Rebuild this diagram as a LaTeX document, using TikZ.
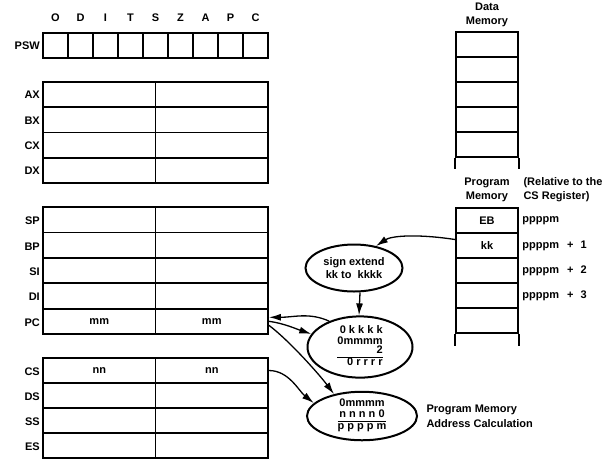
\documentclass[tikz,border=0pt]{standalone}
\usepackage{fontspec}
\setmainfont{Liberation Sans}
\usetikzlibrary{shapes.geometric,arrows.meta}
\setlength\arrayrulewidth{1.3pt}
\tikzset{
  regcell/.style={draw,line width=1.8pt,inner sep=0pt,minimum width=112.5pt,minimum height=#1},
  regcell/.default=25.4pt,
  flagcell/.style={draw,line width=1.8pt,inner sep=0pt,minimum size=25pt},
  memcell/.style={draw,line width=1.8pt,inner sep=0pt,minimum width=62pt,minimum height=25pt},
  reglabel/.style={anchor=east,inner sep=0pt},
  calcbox/.style={ellipse,draw,line width=2pt,inner sep=0pt},
  arr/.style={line width=1.3pt,-{Latex[length=12pt,width=7pt]}},
}

\begin{document}
\begin{tikzpicture}[x=1pt,y=-1pt,font=\bfseries\fontsize{11}{13}\selectfont]
\useasboundingbox (0,0) rectangle (609,459);

\foreach \f [count=\i from 0] in {O,D,I,T,S,Z,A,P,C} {
  \node[flagcell] (flag\i) at (55.5+25*\i,45.5) {};
  \node (fname\i) at (55.5+25*\i,18) {\f};
}
\node[reglabel] (psw) at (40,46) {PSW};

\foreach \reg [count=\i from 0] in {AX,BX,CX,DX} {
  \node[regcell=25.25pt] (\reg lo) at (99.25,94.6+25.25*\i) {};
  \node[regcell=25.25pt] (\reg hi) at (211.75,94.6+25.25*\i) {};
  \node[reglabel] (\reg) at (40,95+25.25*\i) {\reg};
}

\foreach \reg/\val [count=\i from 0] in {SP/{},BP/{},SI/{},DI/{},PC/mm} {
  \node[regcell] (\reg lo) at (99.25,219.7+25.4*\i) {\val};
  \node[regcell] (\reg hi) at (211.75,219.7+25.4*\i) {\val};
  \node[reglabel] (\reg) at (40,221+25.4*\i) {\reg};
}

\foreach \reg/\val [count=\i from 0] in {CS/nn,DS/{},SS/{},ES/{}} {
  \node[regcell=25pt] (\reg lo) at (99.25,370.5+25*\i) {\val};
  \node[regcell=25pt] (\reg hi) at (211.75,370.5+25*\i) {\val};
  \node[reglabel] (\reg) at (40,371.5+25*\i) {\reg};
}

\node[align=center] (dmlabel) at (487,15) {Data\\[1pt]Memory};
\foreach \i in {0,...,4}
  \node[memcell] (dm\i) at (487,44.5+25*\i) {};
\draw[line width=1.8pt] (dm4.south west) -- ++(0,11) (dm4.south east) -- ++(0,11);

\node[align=center] (pmlabel) at (487,190) {Program\\[1pt]Memory};
\node[anchor=west,align=left] (rellabel) at (520,190) {(Relative to the\\[1pt]CS Register)};
\foreach \val [count=\i from 0] in {EB,kk,{},{},{}}
  \node[memcell] (pm\i) at (487,220.5+25*\i) {\val};
\draw[line width=1.8pt] (pm4.south west) -- ++(0,12) (pm4.south east) -- ++(0,12);
\node[anchor=west] (off0) at (pm0.east) {ppppm};
\foreach \i in {1,2,3}
  \node[anchor=west] (off\i) at (pm\i.east) {ppppm\hspace{8pt}+\hspace{7pt}\i};

\node[calcbox,minimum width=97pt,minimum height=47pt,align=center] (ext) at (354,268) {sign extend\\kk to\ \ kkkk};
\node[calcbox,minimum width=105pt,minimum height=42pt,font=\bfseries\fontsize{11}{10}\selectfont] (disp) at (360,347)
  {\begin{tabular}{@{}r@{}}0 k k k k\\0mmmm\\[-1pt]2\\\hline 0 r r r r\end{tabular}};
\node[calcbox,minimum width=110pt,minimum height=43pt,font=\bfseries\fontsize{11}{11}\selectfont] (addr) at (362,416)
  {\begin{tabular}{@{}c@{}}0mmmm\\n n n n 0\\\hline p p p p m\end{tabular}};
\node[anchor=west,align=left] (addrlabel) at ([xshift=5pt]addr.east) {Program Memory\\[2pt]Address Calculation};

\draw[arr] ([yshift=6pt]pm1.west) .. controls +(-40,-6) and +(15,-10) .. (ext.45);
\draw[arr] ([xshift=6pt]ext.south) -- ([xshift=-1pt]disp.north);
\draw[arr] (disp.140) .. controls +(-20,-9) and +(25,0) .. ([yshift=4pt]PChi.east);
\draw[arr] (PChi.east) .. controls +(15,2) and +(-15,-5) .. (disp.165);
\draw[arr] ([yshift=-4pt]PChi.east) .. controls +(20,15) and +(-15,-20) .. (addr.142);
\draw[arr] (CShi.east) .. controls +(20,0) and +(-15,-12) .. (addr.165);
\end{tikzpicture}
\end{document}
